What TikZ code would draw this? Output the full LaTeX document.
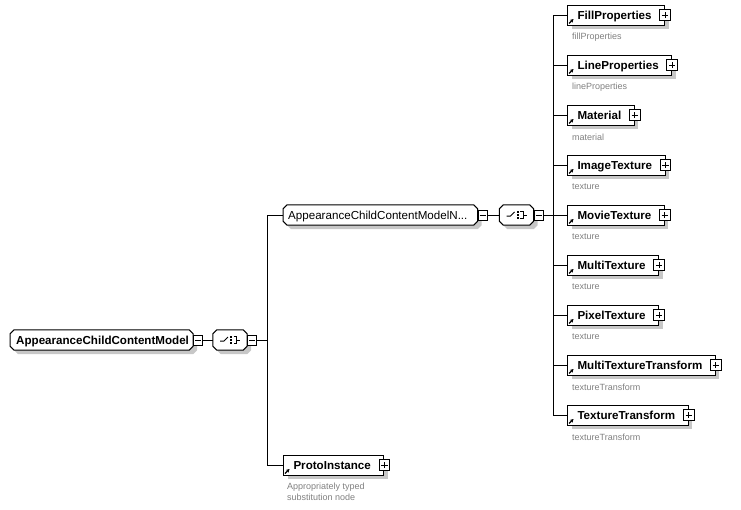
\documentclass[tikz,border=0pt]{standalone}
\usepackage{fontspec}
\setmainfont{Liberation Sans}
\usetikzlibrary{shadows,backgrounds,arrows.meta}
\newcommand\octshape[1]{%
 \begin{pgfonlayer}{background}
 \fill[shadowc] ([xshift=4pt,yshift=-8pt]#1.north west) -- ([xshift=8pt,yshift=-4pt]#1.north west) -- ([xshift=0pt,yshift=-4pt]#1.north east) -- ([xshift=4pt,yshift=-8pt]#1.north east) -- ([xshift=4pt,yshift=0pt]#1.south east) -- ([xshift=0pt,yshift=-4pt]#1.south east) -- ([xshift=8pt,yshift=-4pt]#1.south west) -- ([xshift=4pt,yshift=0pt]#1.south west) -- cycle;
 \draw[conn,fill=white] ([yshift=-4pt]#1.north west) -- ([xshift=4pt]#1.north west) -- ([xshift=-4pt]#1.north east) -- ([yshift=-4pt]#1.north east) -- ([yshift=4pt]#1.south east) -- ([xshift=-4pt]#1.south east) -- ([xshift=4pt]#1.south west) -- ([yshift=4pt]#1.south west) -- cycle;
 \end{pgfonlayer}}
\newcommand\seqsym[1]{%
 \draw[line width=1pt] ([xshift=-10pt,yshift=-1pt]#1.center) -- ([xshift=-6pt,yshift=-1pt]#1.center) -- ([xshift=-2pt,yshift=3pt]#1.center);
 \fill ([xshift=0pt,yshift=4pt]#1.center) rectangle ++(2.2pt,-2.2pt);
 \fill ([xshift=0pt,yshift=1.1pt]#1.center) rectangle ++(2.2pt,-2.2pt);
 \fill ([xshift=0pt,yshift=-1.8pt]#1.center) rectangle ++(2.2pt,-2.2pt);
 \draw[line width=1pt] ([xshift=3.5pt,yshift=3.5pt]#1.center) -- ([xshift=6.5pt,yshift=3.5pt]#1.center) -- ([xshift=6.5pt,yshift=-3.5pt]#1.center) -- ([xshift=3.5pt,yshift=-3.5pt]#1.center);
 \draw[line width=1pt] ([xshift=6.5pt]#1.center) -- ([xshift=10pt]#1.center);}
\begin{document}
\begin{tikzpicture}[x=1pt,y=-1pt,
  conn/.style={line width=1pt,black},
  shadowc/.style={fill=black!22},
  elem/.style={draw, conn, fill=white, rectangle, anchor=west, minimum height=20pt,
    inner xsep=0pt, inner ysep=0pt, text height=8.3pt, text depth=0pt,
    font=\fontsize{11.6}{13}\selectfont\bfseries,
    execute at begin node={\hspace{10pt}}, execute at end node={\hspace{13pt}},
    drop shadow={shadow xshift=4pt, shadow yshift=-4pt, fill=black!22, opacity=1}},
  grp/.style={rectangle, anchor=west, minimum height=20pt, inner xsep=0pt, inner ysep=0pt,
    text height=8.3pt, text depth=0pt},
  pbox/.style={draw, conn, fill=white, rectangle, minimum width=10.5pt, minimum height=10.5pt, inner sep=0pt},
  plusbox/.style={pbox, path picture={\draw[line width=1pt] ([xshift=-3.2pt]path picture bounding box.center) -- ([xshift=3.2pt]path picture bounding box.center) ([yshift=-3.2pt]path picture bounding box.center) -- ([yshift=3.2pt]path picture bounding box.center);}},
  minusbox/.style={pbox, minimum width=9pt, minimum height=10pt, path picture={\draw[line width=1pt] ([xshift=-3pt]path picture bounding box.center) -- ([xshift=3pt]path picture bounding box.center);}},
  captxt/.style={anchor=west, inner sep=0pt, text=black!50, font=\fontsize{9}{11}\selectfont},
  refarrow/.style={-{Stealth[length=3.5pt,width=3.8pt]}, line width=1.2pt}
]
\useasboundingbox (0,0) rectangle (741,509);

% top-level node
\node[grp, font=\fontsize{11.6}{13}\selectfont\bfseries, execute at begin node={\hspace{6pt}}, execute at end node={\hspace{4pt}}] (acm) at (10,340) {AppearanceChildContentModel};
\octshape{acm}
\node[minusbox, anchor=west] (acm-m) at (acm.east) {};
\node[grp, anchor=center, minimum width=34pt] (s1) at (230,340) {};
\octshape{s1}
\seqsym{s1}
\node[minusbox, anchor=west] (s1-m) at (s1.east) {};
\coordinate (j1) at (267,340);
\draw[conn] (acm-m) -- (s1);
\draw[conn] (s1-m) -- (j1);
\coordinate (b1t) at (267,215);
\coordinate (b1b) at (267,465);
\draw[conn] (b1t) -- (b1b);

% group node
\node[grp, font=\fontsize{11.6}{13}\selectfont, execute at begin node={\hspace{5pt}}, execute at end node={\hspace{10pt}}] (acmn) at (283,215) {AppearanceChildContentModelN...};
\octshape{acmn}
\node[minusbox, anchor=west] (acmn-m) at (acmn.east) {};
\node[grp, anchor=center, minimum width=34pt] (s2) at (516.5,215) {};
\octshape{s2}
\seqsym{s2}
\node[minusbox, anchor=west] (s2-m) at (s2.east) {};
\draw[conn] (b1t) -- (acmn);
\draw[conn] (acmn-m) -- (s2);

% ProtoInstance
\node[elem] (proto) at (283,465) {ProtoInstance};
\node[plusbox] (proto-p) at (proto.east) {};
\draw[refarrow] ([xshift=2pt,yshift=2pt]proto.south west) -- ++(4.5pt,4.5pt);
\node[captxt, anchor=north west, align=left] (proto-c) at (287,483) {Appropriately typed\\substitution node};
\draw[conn] (b1b) -- (proto);

% children
\foreach \n/\t/\c/\y in {fillp/FillProperties/fillProperties/15,
  linep/LineProperties/lineProperties/65,
  mat/Material/material/115,
  imgt/ImageTexture/texture/165,
  movt/MovieTexture/texture/215,
  mult/MultiTexture/texture/265,
  pixt/PixelTexture/texture/315,
  mtt/MultiTextureTransform/textureTransform/365,
  ttr/TextureTransform/textureTransform/415}{
  \coordinate (\n-j) at (553,\y);
  \node[elem] (\n) at (567,\y) {\t};
  \node[plusbox] (\n-p) at (\n.east) {};
  \draw[refarrow] ([xshift=2pt,yshift=2pt]\n.south west) -- ++(4.5pt,4.5pt);
  \node[captxt] (\n-c) at (572,\y+22) {\c};
  \draw[conn] (\n-j) -- (\n);
}
\draw[conn] (fillp-j) -- (ttr-j);
\draw[conn] (s2-m) -- (movt-j);
\end{tikzpicture}
\end{document}
